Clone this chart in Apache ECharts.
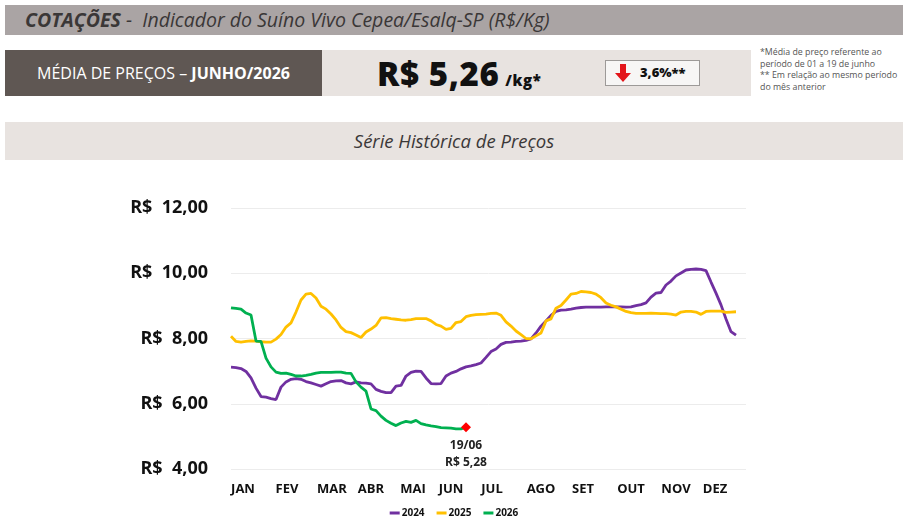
<!DOCTYPE html>
<html>
<head>
<meta charset="utf-8">
<script src="https://cdn.jsdelivr.net/npm/echarts@6/dist/echarts.min.js"></script>
<style>
  html, body { margin:0; padding:0; width:908px; height:529px; background:#fff; overflow:hidden; font-family:"Open Sans", sans-serif; }
  .abs { position:absolute; }
  #topbar { left:5px; top:5px; width:898px; height:30px; background:#aaa4a4; }
  #topbar .t { position:absolute; left:20px; top:1px; font-size:19.5px; color:#3a3737; font-style:italic; white-space:nowrap; }
  #darkbox { left:5px; top:50px; width:317px; height:46px; background:#5f5753; color:#fff; font-size:16px; line-height:46px; text-align:center; white-space:nowrap; }
  #lightbox { left:322px; top:50px; width:429px; height:46px; background:#e8e3e0; }
  #price { position:absolute; left:55px; top:1px; font-size:33px; font-weight:800; color:#111; white-space:nowrap; letter-spacing:0.6px; }
  #price small { font-size:15px; font-weight:800; margin-left:6px; }
  #varbox { position:absolute; left:283px; top:10px; width:93px; height:24px; background:#f7f6f5; border:1px solid #9d9a98; }
  #varbox .txt { position:absolute; left:34px; top:2px; font-size:13px; font-weight:800; color:#111; }
  #varbox svg { position:absolute; left:9px; top:3px; }
  #notes { left:760px; top:47px; font-size:8.8px; line-height:11.6px; color:#555; white-space:nowrap; }
  #seriebar { left:5px; top:122px; width:898px; height:38px; background:#e8e3e0; text-align:center; line-height:38px; font-size:18.5px; font-style:italic; color:#3b3838; }
  #chart { left:0; top:0; width:908px; height:529px; }
</style>
</head>
<body>
<div id="topbar" class="abs"><div class="t"><b>COTAÇÕES</b> -&nbsp; Indicador do Suíno Vivo Cepea/Esalq-SP (R$/Kg)</div></div>
<div id="darkbox" class="abs">MÉDIA DE PREÇOS – <b>JUNHO/2026</b></div>
<div id="lightbox" class="abs">
  <div id="price">R$ 5,26<small>/kg*</small></div>
  <div id="varbox">
    <svg width="16" height="18" viewBox="0 0 16 18"><path d="M5 0 H11 V9 H16 L8 18 L0 9 H5 Z" fill="#e3151a"/></svg>
    <div class="txt">3,6%**</div>
  </div>
</div>
<div id="notes" class="abs">*Média de preço referente ao<br>período de 01 a 19 de junho<br>** Em relação ao mesmo período<br>do mês anterior</div>
<div id="seriebar" class="abs">Série Histórica de Preços</div>
<div id="chart" class="abs"></div>
<script>
// ---- data (one sample every ~2.5 business days, index 0..103) ----
const seriesNames = ['2024', '2025', '2026'];
const monthLabels = ['JAN','FEV','MAR','ABR','MAI','JUN','JUL','AGO','SET','OUT','NOV','DEZ'];
const monthLabelAt = [2.4, 11.2, 20.2, 28, 36.4, 44, 52.2, 62, 70.4, 80, 89, 96.8];
const yTicks = [4, 6, 8, 10, 12];
const lastDateLabel = '19/06';

const values2024 = [
  7.12,7.11,7.08,6.99,6.79,6.48,6.22,6.20,6.16,6.13,
  6.51,6.67,6.75,6.77,6.75,6.68,6.64,6.59,6.54,6.61,
  6.68,6.70,6.71,6.64,6.61,6.67,6.64,6.63,6.61,6.44,
  6.38,6.34,6.34,6.54,6.56,6.85,6.96,7.00,6.99,6.79,
  6.62,6.61,6.62,6.85,6.94,6.99,7.07,7.13,7.16,7.20,
  7.25,7.42,7.60,7.68,7.82,7.88,7.89,7.91,7.92,7.94,
  7.99,8.17,8.38,8.54,8.71,8.83,8.87,8.88,8.90,8.93,
  8.95,8.96,8.96,8.96,8.96,8.97,8.97,8.97,8.97,8.96,
  8.97,9.01,9.04,9.09,9.27,9.39,9.41,9.64,9.76,9.92,
  10.01,10.10,10.12,10.13,10.12,10.08,9.73,9.39,9.03,8.60,
  8.21,8.10
];
const values2025 = [
  8.07,7.91,7.89,7.91,7.93,7.92,7.90,7.89,7.89,7.98,
  8.12,8.35,8.48,8.81,9.18,9.36,9.38,9.24,8.99,8.90,
  8.75,8.57,8.34,8.21,8.18,8.11,8.03,8.20,8.29,8.40,
  8.63,8.64,8.61,8.59,8.57,8.56,8.58,8.61,8.61,8.61,
  8.54,8.43,8.38,8.28,8.31,8.49,8.52,8.67,8.71,8.73,
  8.74,8.75,8.77,8.78,8.71,8.51,8.38,8.23,8.12,8.00,
  7.99,8.08,8.17,8.54,8.60,8.93,9.01,9.18,9.36,9.38,
  9.44,9.43,9.41,9.36,9.25,9.09,9.02,8.97,8.90,8.83,
  8.79,8.77,8.77,8.77,8.78,8.77,8.76,8.76,8.75,8.72,
  8.81,8.83,8.83,8.81,8.74,8.83,8.84,8.84,8.84,8.80,
  8.81,8.82
];
const values2026 = [
  8.94,8.92,8.90,8.78,8.72,7.92,7.91,7.40,7.13,6.97,
  6.93,6.94,6.90,6.85,6.85,6.87,6.90,6.94,6.96,6.96,
  6.96,6.97,6.97,6.94,6.93,6.67,6.51,6.39,5.84,5.79,
  5.62,5.49,5.40,5.33,5.41,5.46,5.43,5.49,5.39,5.35,
  5.32,5.30,5.27,5.26,5.25,5.23,5.23,5.28
];
const seriesColors = ['#7030a0', '#ffc000', '#00b050'];
const xMax = 103;

function fmtBR(v) { return v.toFixed(2).replace('.', ','); }

const chart = echarts.init(document.getElementById('chart'), null, { renderer: 'canvas' });

const allValues = [values2024, values2025, values2026];
const series = allValues.map((vals, s) => {
  const data = vals.map((v, i) => [i, v]);
  if (s === 2) {
    const last = data.length - 1;
    data[last] = {
      value: data[last],
      symbol: 'diamond',
      symbolSize: 10,
      itemStyle: { color: '#ff0000' },
      label: {
        show: true,
        position: 'bottom',
        distance: 5,
        formatter: lastDateLabel + '\nR$ ' + fmtBR(vals[last]),
        fontFamily: 'Open Sans',
        fontWeight: 'bold',
        fontSize: 12,
        lineHeight: 17,
        color: '#222'
      }
    };
  }
  return {
    name: seriesNames[s],
    type: 'line',
    data: data,
    showSymbol: true,
    symbol: 'none',
    lineStyle: { width: 2.8, color: seriesColors[s] },
    itemStyle: { color: seriesColors[s] },
    z: 3 + s,
    animation: false
  };
});

chart.setOption({
  animation: false,
  color: seriesColors,
  grid: { left: 231, right: 162, top: 208, bottom: 60, containLabel: false },
  legend: {
    data: seriesNames,
    bottom: 6,
    left: 'center',
    icon: 'rect',
    itemWidth: 10,
    itemHeight: 3,
    itemGap: 12,
    textStyle: { fontFamily: 'Open Sans', fontWeight: 'bold', fontSize: 10, color: '#111', padding: [0, 0, 0, -3] }
  },
  xAxis: {
    type: 'value',
    min: 0,
    max: xMax,
    axisLine: { show: false },
    axisTick: { show: false },
    splitLine: { show: false },
    axisLabel: {
      customValues: monthLabelAt,
      margin: 14,
      fontFamily: 'Open Sans',
      fontWeight: 'bold',
      fontSize: 13,
      color: '#111',
      formatter: function (v) {
        let best = 0, bd = Infinity;
        monthLabelAt.forEach((p, k) => { const d = Math.abs(p - v); if (d < bd) { bd = d; best = k; } });
        return monthLabels[best];
      }
    }
  },
  yAxis: {
    type: 'value',
    min: yTicks[0],
    max: yTicks[yTicks.length - 1],
    interval: 2,
    axisLine: { show: false },
    axisTick: { show: false },
    splitLine: { lineStyle: { color: '#ececec', width: 1 } },
    axisLabel: {
      margin: 23,
      fontFamily: 'Open Sans',
      fontWeight: 'bold',
      fontSize: 18,
      color: '#111',
      formatter: function (v) { return 'R$  ' + fmtBR(v); }
    }
  },
  series: series
});
</script>
</body>
</html>
